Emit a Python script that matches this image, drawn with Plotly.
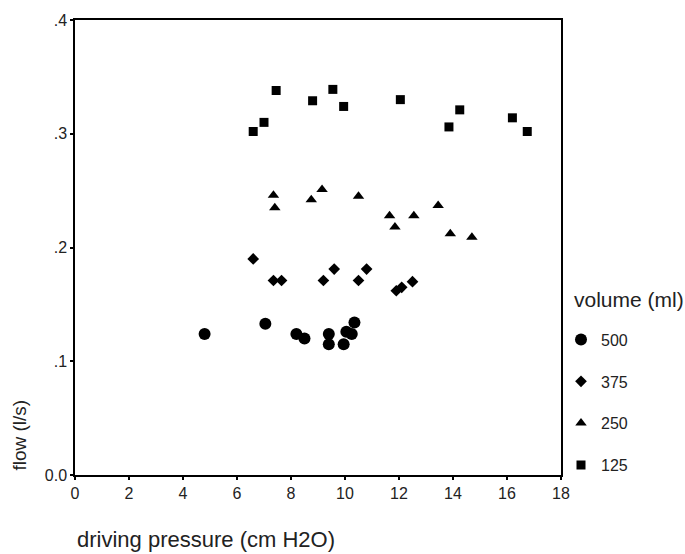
import plotly.graph_objects as go

# Driving pressure (cm H2O) and flow (l/s) per tidal volume
p_500 = [4.8, 7.05, 8.2, 8.5, 9.4, 9.4, 9.95, 10.05, 10.25, 10.35]
f_500 = [0.124, 0.133, 0.124, 0.120, 0.124, 0.115, 0.115, 0.126, 0.124, 0.134]

p_375 = [6.6, 7.35, 7.65, 9.2, 9.6, 10.5, 10.8, 11.9, 12.1, 12.5]
f_375 = [0.190, 0.171, 0.171, 0.171, 0.181, 0.171, 0.181, 0.162, 0.165, 0.170]

p_250 = [7.35, 7.4, 8.75, 9.15, 10.5, 11.65, 11.85, 12.55, 13.45, 13.9, 14.7]
f_250 = [0.246, 0.235, 0.242, 0.251, 0.245, 0.228, 0.218, 0.228, 0.237, 0.212, 0.209]

p_125 = [6.6, 7.0, 7.45, 8.8, 9.55, 9.95, 12.05, 13.85, 14.25, 16.2, 16.75]
f_125 = [0.302, 0.310, 0.338, 0.329, 0.339, 0.324, 0.330, 0.306, 0.321, 0.314, 0.302]

x_ticks = [0, 2, 4, 6, 8, 10, 12, 14, 16, 18]
y_ticks = [0.0, 0.1, 0.2, 0.3, 0.4]
y_ticktext = ["0.0", ".1", ".2", ".3", ".4"]

series = [
    ("500", p_500, f_500, "circle", 12),
    ("375", p_375, f_375, "diamond", 9),
    ("250", p_250, f_250, "triangle-up", 10),
    ("125", p_125, f_125, "square", 9),
]

fig = go.Figure()
for name, xs, ys, sym, size in series:
    fig.add_trace(go.Scatter(
        x=xs, y=ys, mode="markers", name=name, legendgroup=name,
        marker=dict(symbol=sym, size=size, color="black",
                    line=dict(width=0)),
    ))

font_family = "Liberation Sans, Arial, sans-serif"

fig.update_layout(
    width=685, height=554,
    margin=dict(l=75, r=124, t=15, b=79),
    paper_bgcolor="white", plot_bgcolor="white",
    font=dict(family=font_family, color="#222", size=16),
    showlegend=True,
    legend=dict(
        x=1.0, xanchor="left", y=0.335, yanchor="top",
        font=dict(size=16), tracegroupgap=18,
        itemwidth=30,
        bgcolor="rgba(0,0,0,0)",
    ),
    xaxis=dict(
        range=[0, 18], tickvals=x_ticks, showgrid=False, zeroline=False,
        showline=True, linecolor="black", linewidth=1.5, mirror=True,
        ticks="outside", ticklen=3, tickcolor="black", tickwidth=2,
        tickfont=dict(size=16),
    ),
    yaxis=dict(
        range=[0, 0.4], tickvals=y_ticks, ticktext=y_ticktext,
        showgrid=False, zeroline=False,
        showline=True, linecolor="black", linewidth=1.5, mirror=True,
        ticks="outside", ticklen=3, tickcolor="black", tickwidth=2,
        tickfont=dict(size=16),
    ),
    annotations=[
        dict(text="volume (ml)", xref="paper", yref="paper",
             x=1.022, y=0.385, xanchor="left", yanchor="middle",
             showarrow=False, font=dict(size=21)),
        dict(text="flow (l/s)", xref="paper", yref="paper",
             x=-0.115, y=0.087, xanchor="center", yanchor="middle",
             textangle=-90, showarrow=False, font=dict(size=19)),
        dict(text="driving pressure (cm H2O)", xref="paper", yref="paper",
             x=0.0, y=-0.141, xanchor="left", yanchor="middle",
             showarrow=False, font=dict(size=22)),
    ],
)

fig.write_html("out.html")
